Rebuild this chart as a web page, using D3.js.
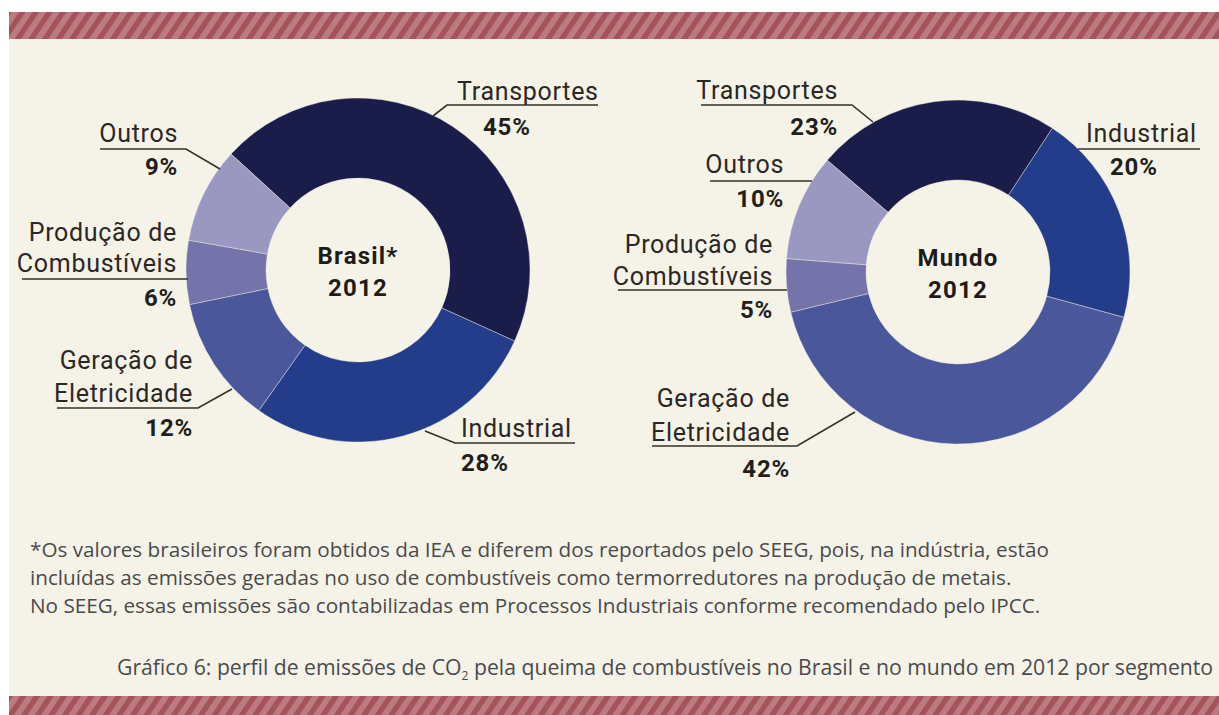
<!DOCTYPE html>
<html>
<head>
<meta charset="utf-8">
<script src="https://cdn.jsdelivr.net/npm/d3@7"></script>
<style>
  html, body { margin: 0; padding: 0; background: #ffffff; }
  svg { display: block; }
</style>
</head>
<body>
<svg id="chart" width="1219" height="715"></svg>
<script>
// ---------- DATA ----------
const categories = ["Transportes", "Industrial", "Geração de Eletricidade", "Produção de Combustíveis", "Outros"];
const brasilValues = [45, 28, 12, 6, 9];
const mundoValues = [23, 20, 42, 5, 10];
const pctLabelsBrasil = ["45%", "28%", "12%", "6%", "9%"];
const pctLabelsMundo = ["23%", "20%", "42%", "5%", "10%"];
const nameLines = [["Transportes"], ["Industrial"], ["Geração de", "Eletricidade"], ["Produção de", "Combustíveis"], ["Outros"]];
const centerBrasil = ["Brasil*", "2012"];
const centerMundo = ["Mundo", "2012"];
const footnote = [
  "*Os valores brasileiros foram obtidos da IEA e diferem dos reportados pelo SEEG, pois, na indústria, estão",
  "incluídas as emissões geradas no uso de combustíveis como termorredutores na produção de metais.",
  "No SEEG, essas emissões são contabilizadas em Processos Industriais conforme recomendado pelo IPCC."
];

// ---------- STYLE / LAYOUT ----------
const colors = ["#1a1c4a", "#233d8b", "#4b579b", "#7574aa", "#9a98c1"];
const W = 1219, H = 715;
const svg = d3.select("#chart");
const defs = svg.append("defs");

const pat = defs.append("pattern")
  .attr("id", "stripes").attr("patternUnits", "userSpaceOnUse")
  .attr("width", 13.6).attr("height", 60)
  .attr("patternTransform", "skewX(-34)");
pat.append("rect").attr("width", 13.6).attr("height", 60).attr("fill", "#ba7c80");
pat.append("rect").attr("x", 0).attr("width", 6.5).attr("height", 60).attr("fill", "#a6525a");

svg.append("rect").attr("x", 0).attr("y", 0).attr("width", W).attr("height", H).attr("fill", "#ffffff");
svg.append("rect").attr("x", 9).attr("y", 39).attr("width", W - 9).attr("height", 657).attr("fill", "#f5f3e7");
svg.append("rect").attr("x", 9).attr("y", 12).attr("width", W - 9).attr("height", 27).attr("fill", "url(#stripes)");
svg.append("rect").attr("x", 9).attr("y", 696).attr("width", W - 9).attr("height", 19).attr("fill", "url(#stripes)");

const labelFont = "Roboto, 'DejaVu Sans', sans-serif";
const textColor = "#2b2724";

// label layouts (annotation positions, per category index)
const layoutBrasil = [
  { anchor: "start", x: 457, nameY: [100], px: 483, pctY: 135, line: [[433,116],[447,105],[598,105]] },
  { anchor: "start", x: 461, nameY: [437], px: 461, pctY: 471, line: [[425,431],[455,443],[575,443]] },
  { anchor: "end", x: 193, nameY: [369, 402], px: 193, pctY: 436, line: [[57,408],[198,408],[232,389]] },
  { anchor: "end", x: 177, nameY: [241, 272], px: 177, pctY: 306, line: [[22,279],[188,279]] },
  { anchor: "end", x: 178, nameY: [142], px: 178, pctY: 175, line: [[100,149],[186,149],[220,169]] }
];
const layoutMundo = [
  { anchor: "end", x: 838, nameY: [99], px: 838, pctY: 135, line: [[701,105],[852,105],[873,122]] },
  { anchor: "start", x: 1086, nameY: [142], px: 1110, pctY: 175, line: [[1078,149],[1200,149]] },
  { anchor: "end", x: 790, nameY: [407, 441], px: 790, pctY: 477, line: [[652,446],[797,446],[855,412]] },
  { anchor: "end", x: 773, nameY: [253, 285], px: 773, pctY: 318, line: [[618,290],[787,290]] },
  { anchor: "end", x: 784, nameY: [173], px: 784, pctY: 207, line: [[710,181],[812,181]] }
];

function drawDonut(cx, cy, values, startDeg, pcts, layout, center) {
  const g = svg.append("g").attr("transform", `translate(${cx},${cy})`);
  const pie = d3.pie().sort(null).value(d => d)
    .startAngle(startDeg * Math.PI / 180)
    .endAngle(startDeg * Math.PI / 180 + 2 * Math.PI);
  const arc = d3.arc().innerRadius(92).outerRadius(172);
  g.selectAll("path.slice").data(pie(values)).join("path")
    .attr("class", "slice")
    .attr("d", arc)
    .attr("fill", (d, i) => colors[i])
    .attr("stroke", "#f5f3e7").attr("stroke-width", 0.4);

  g.selectAll("text.center").data(center).join("text")
    .attr("class", "center")
    .attr("x", 0).attr("y", (d, i) => -6 + i * 32)
    .attr("text-anchor", "middle")
    .attr("font-family", labelFont).attr("font-weight", 700)
    .attr("font-size", 24).attr("letter-spacing", 1.2)
    .attr("fill", "#1f1b18")
    .text(d => d);

  const line = d3.line();
  layout.forEach((L, i) => {
    svg.append("path").attr("d", line(L.line))
      .attr("fill", "none").attr("stroke", "#35302b").attr("stroke-width", 1.6);
    nameLines[i].forEach((t, j) => {
      svg.append("text").attr("x", L.x).attr("y", L.nameY[j])
        .attr("text-anchor", L.anchor)
        .attr("font-family", labelFont).attr("font-size", 25)
        .attr("letter-spacing", 0.7)
        .attr("fill", textColor).text(t);
    });
    svg.append("text").attr("x", L.px).attr("y", L.pctY)
      .attr("text-anchor", L.anchor)
      .attr("font-family", labelFont).attr("font-weight", 700).attr("font-size", 24)
      .attr("letter-spacing", 0.8)
      .attr("fill", "#221e1b").text(pcts[i]);
  });
}

drawDonut(358, 270, brasilValues, -47.6, pctLabelsBrasil, layoutBrasil, centerBrasil);
drawDonut(958, 272, mundoValues, -49.5, pctLabelsMundo, layoutMundo, centerMundo);

// footnote
const noteFont = "'Open Sans', 'Noto Sans', sans-serif";
svg.selectAll("text.note").data(footnote).join("text")
  .attr("class", "note")
  .attr("x", 30).attr("y", (d, i) => 557 + i * 28)
  .attr("font-family", noteFont).attr("font-size", 20.7)
  .attr("fill", "#4a4a4c")
  .text(d => d);

// caption
const cap = svg.append("text").attr("x", 117).attr("y", 675)
  .attr("font-family", noteFont).attr("font-size", 21.2).attr("fill", "#4a4a4c");
cap.append("tspan").text("Gráfico 6: perfil de emissões de CO");
cap.append("tspan").attr("font-size", 12).attr("dy", 5).text("2");
cap.append("tspan").attr("dy", -5).text(" pela queima de combustíveis no Brasil e no mundo em 2012 por segmento");
</script>
</body>
</html>
